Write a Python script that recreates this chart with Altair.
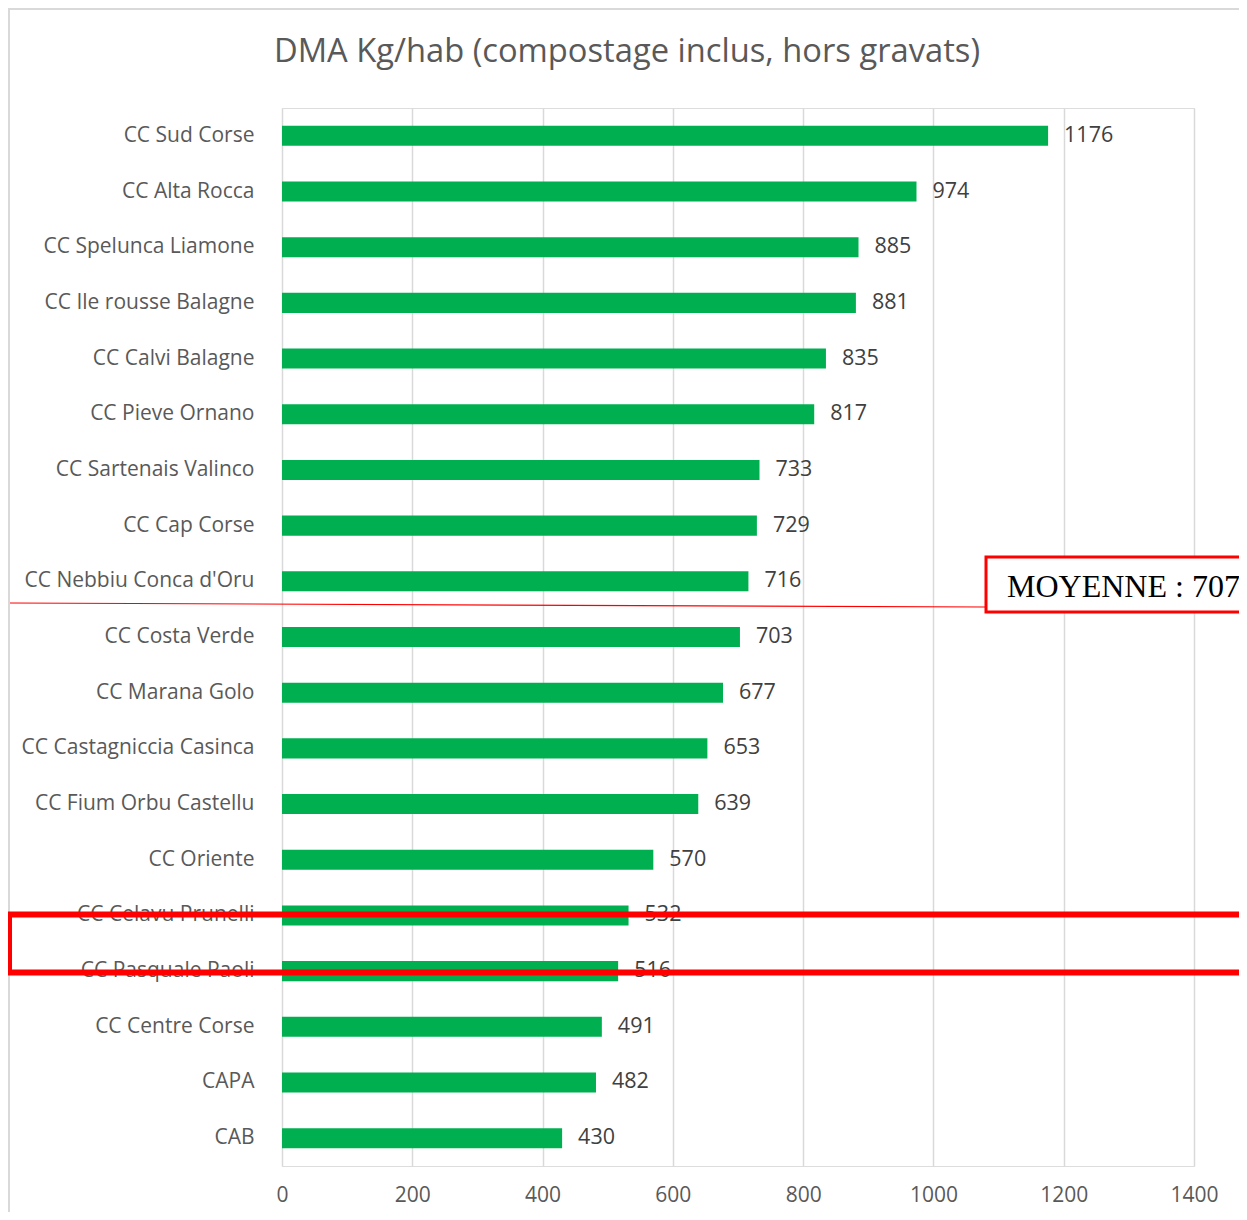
import altair as alt
import pandas as pd

categories = [
    "CC Sud Corse", "CC Alta Rocca", "CC Spelunca Liamone", "CC Ile rousse Balagne",
    "CC Calvi Balagne", "CC Pieve Ornano", "CC Sartenais Valinco", "CC Cap Corse",
    "CC Nebbiu Conca d'Oru", "CC Costa Verde", "CC Marana Golo", "CC Castagniccia Casinca",
    "CC Fium Orbu Castellu", "CC Oriente", "CC Celavu Prunelli", "CC Pasquale Paoli",
    "CC Centre Corse", "CAPA", "CAB",
]
values = [1176, 974, 885, 881, 835, 817, 733, 729, 716, 703, 677, 653, 639, 570, 532, 516, 491, 482, 430]
x_ticks = [0, 200, 400, 600, 800, 1000, 1200, 1400]
MEAN = 707
TITLE = "DMA Kg/hab (compostage inclus, hors gravats)"

df = pd.DataFrame({"cat": categories, "val": values})
one = pd.DataFrame({"a": [0]})

FONT = "Open Sans"
GREEN = "#00B050"

W, H = 912, 1058
TOP, LEFT = 100, 274
TOTAL_W, TOTAL_H = 1231, 1204

y_enc = alt.Y("cat:N", sort=categories, title=None,
              scale=alt.Scale(paddingInner=0.64, paddingOuter=0.32),
              axis=alt.Axis(labelPadding=28, ticks=False, domain=False, grid=False,
                            labelFont=FONT, labelFontSize=21, labelColor="#595959",
                            labelLimit=400))
x_enc = alt.X("val:Q", title=None,
              scale=alt.Scale(domain=[0, 1400], nice=False),
              axis=alt.Axis(values=x_ticks, format="d", ticks=False, domain=False,
                            grid=True, gridColor="#d9d9d9", gridWidth=1.5,
                            labelFlush=False,
                            labelPadding=18, labelFont=FONT, labelFontSize=21,
                            labelColor="#595959"))

bars = alt.Chart(df).mark_bar(color=GREEN).encode(x=x_enc, y=y_enc)
labels = alt.Chart(df).mark_text(align="left", baseline="middle", dx=16,
                                 font=FONT, fontSize=21.5, color="#404040").encode(
    x="val:Q", y=alt.Y("cat:N", sort=categories), text="val:Q")

# chart frame
frame = alt.Chart(one).mark_rect(fill=None, stroke="#d9d9d9", strokeWidth=2).encode(
    x=alt.value(-LEFT + 1), x2=alt.value(1100), y=alt.value(-TOP + 1), y2=alt.value(1200))

title = alt.Chart(one).mark_text(font=FONT, fontSize=32.7, color="#595959",
                                 align="center", baseline="middle").encode(
    x=alt.value(345), y=alt.value(-56), text=alt.value(TITLE))

mean_line = alt.Chart(one).mark_rule(color="#ff0000", strokeWidth=1.2).encode(
    x=alt.value(-272), x2=alt.value(703), y=alt.value(495), y2=alt.value(499))

mean_box = alt.Chart(one).mark_rect(fill="white", stroke="#ff0000", strokeWidth=3).encode(
    x=alt.value(704), x2=alt.value(1000), y=alt.value(449), y2=alt.value(504))

mean_text = alt.Chart(one).mark_text(font="Liberation Serif", fontSize=32, color="black",
                                     align="left", baseline="middle").encode(
    x=alt.value(725), y=alt.value(479), text=alt.value(f"MOYENNE : {MEAN}"))

highlight = alt.Chart(one).mark_rect(fill=None, stroke="#ff0000", strokeWidth=6).encode(
    x=alt.value(-273), x2=alt.value(962), y=alt.value(806.5), y2=alt.value(864.5))

chart = alt.layer(frame, bars, labels, title, mean_line, mean_box, mean_text, highlight).properties(
    width=W, height=H,
    autosize=alt.AutoSizeParams(type="none"),
    padding={"left": LEFT, "top": TOP, "right": TOTAL_W - LEFT - W, "bottom": TOTAL_H - TOP - H},
).configure_view(stroke=None).configure(background="white")

chart.save("out.html", embed_options={"renderer": "svg", "actions": False})
